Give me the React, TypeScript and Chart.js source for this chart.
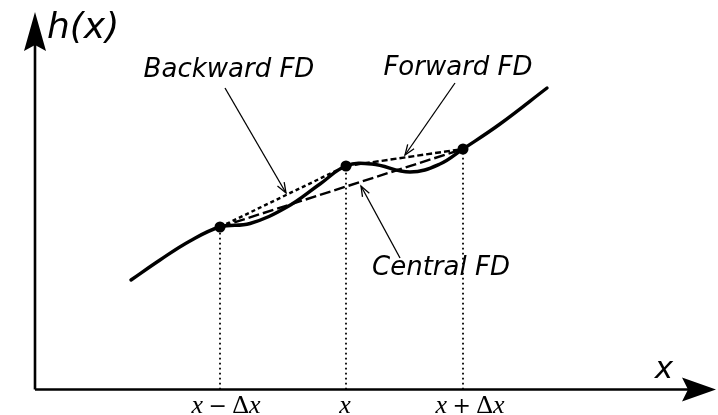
import { useEffect, useRef } from 'react';
import { Chart, registerables } from 'chart.js';

Chart.register(...registerables);

// Curve h(x) (data units)
const CURVE_X = [9.6, 12.5, 15.5, 18.5, 21.5, 25.2, 28.5, 31.1, 33.7, 37.5, 40.5, 42.8, 46.5, 51.2];
const CURVE_Y = [10.95, 12.95, 14.85, 16.25, 16.6, 18.25, 20.55, 22.35, 22.55, 21.75, 22.55, 24.05, 26.55, 30.15];

// Stencil points x-Δx, x, x+Δx
const POINT_X = [18.5, 31.1, 42.8];
const POINT_Y = [16.25, 22.35, 24.05];

// Tick labels under the x axis (text, kind): kind 'i' italic variable, 'o' operator, 'u' upright symbol
const TICK_LABELS = [
  [['x', 'i'], ['\u2005−\u2005', 'o'], ['Δ', 'u'], ['x', 'i']],
  [['x', 'i']],
  [['x', 'i'], ['\u2005+\u2005', 'o'], ['Δ', 'u'], ['x', 'i']],
];
const TICK_LABEL_X = [19.1, 31.0, 43.5];
const TICK_LABEL_Y = -1.6;

// Annotations
const ANNOT_TEXT = ['Backward FD', 'Forward FD', 'Central FD'];
const ANNOT_X = [19.4, 42.3, 40.6];
const ANNOT_Y = [31.95, 32.15, 12.15];
const ARROW_FROM_X = [19.0, 42.0, 36.5];
const ARROW_FROM_Y = [30.15, 30.65, 13.15];
const ARROW_TO_X = [25.1, 37.0, 32.6];
const ARROW_TO_Y = [19.65, 23.45, 20.35];

// Axes
const AXIS_X_END = 68.1;
const AXIS_Y_END = 37.75;
const X_MIN = -3.5;
const X_MAX = 68.3;
const Y_MIN = -2.55;
const Y_MAX = 38.95;

const pt = (i: number) => ({ x: POINT_X[i], y: POINT_Y[i] });

const overlay = {
  id: 'overlay',
  afterDatasetsDraw(chart: any) {
    const ctx: CanvasRenderingContext2D = chart.ctx;
    const xs = chart.scales.x;
    const ys = chart.scales.y;
    const px = (v: number) => xs.getPixelForValue(v);
    const py = (v: number) => ys.getPixelForValue(v);
    ctx.save();
    ctx.fillStyle = '#000';
    ctx.strokeStyle = '#000';

    // y axis arrowhead (pointing up)
    {
      const tx = px(0), ty = py(AXIS_Y_END);
      ctx.beginPath();
      ctx.moveTo(tx, ty);
      ctx.lineTo(tx + 11, ty + 39);
      ctx.lineTo(tx, ty + 33);
      ctx.lineTo(tx - 11, ty + 39);
      ctx.closePath();
      ctx.fill();
    }
    // x axis arrowhead (pointing right)
    {
      const tx = px(AXIS_X_END), ty = py(0);
      ctx.beginPath();
      ctx.moveTo(tx, ty);
      ctx.lineTo(tx - 34, ty - 12);
      ctx.lineTo(tx - 28, ty);
      ctx.lineTo(tx - 34, ty + 12);
      ctx.closePath();
      ctx.fill();
    }

    // annotation arrowheads (open)
    ctx.lineWidth = 1.3;
    for (let i = 0; i < ARROW_TO_X.length; i++) {
      const x1 = px(ARROW_FROM_X[i]), y1 = py(ARROW_FROM_Y[i]);
      const x2 = px(ARROW_TO_X[i]), y2 = py(ARROW_TO_Y[i]);
      const a = Math.atan2(y2 - y1, x2 - x1);
      const L = 11, h = 0.36;
      ctx.beginPath();
      ctx.moveTo(x2 - L * Math.cos(a - h), y2 - L * Math.sin(a - h));
      ctx.lineTo(x2, y2);
      ctx.lineTo(x2 - L * Math.cos(a + h), y2 - L * Math.sin(a + h));
      ctx.stroke();
    }

    // annotation texts
    ctx.font = 'italic 26px "DejaVu Sans"';
    ctx.textAlign = 'center';
    ctx.textBaseline = 'middle';
    for (let i = 0; i < ANNOT_TEXT.length; i++) {
      ctx.fillText(ANNOT_TEXT[i], px(ANNOT_X[i]), py(ANNOT_Y[i]));
    }

    // axis titles
    ctx.font = 'italic 36px "DejaVu Sans"';
    ctx.textAlign = 'left';
    ctx.textBaseline = 'alphabetic';
    ctx.fillText('h(x)', px(1.2), py(35.15));
    ctx.font = 'italic 31px "DejaVu Sans"';
    ctx.textAlign = 'center';
    ctx.fillText('x', px(62.9), py(1.15));

    // tick labels (math style)
    ctx.textBaseline = 'alphabetic';
    const fontOf = (k: string) =>
      k === 'i' ? 'italic 26px "Liberation Serif"' : k === 'o' ? '22px "DejaVu Serif"' : '26px "Liberation Serif"';
    for (let i = 0; i < TICK_LABELS.length; i++) {
      const parts = TICK_LABELS[i] as [string, string][];
      let total = 0;
      for (const [t, k] of parts) {
        ctx.font = fontOf(k);
        total += ctx.measureText(t).width;
      }
      let x = px(TICK_LABEL_X[i]) - total / 2;
      const base = py(TICK_LABEL_Y) + 7;
      ctx.textAlign = 'left';
      for (const [t, k] of parts) {
        ctx.font = fontOf(k);
        ctx.fillText(t, x, base);
        x += ctx.measureText(t).width;
      }
    }
    ctx.restore();
  },
};

export default function App() {
  const ref = useRef<HTMLCanvasElement>(null);
  useEffect(() => {
    if (!ref.current) return;
    const base = { fill: false, pointRadius: 0, borderColor: '#000', showLine: true, tension: 0 };
    const datasets: any[] = [];
    // vertical dotted guides
    for (let i = 0; i < POINT_X.length; i++) {
      datasets.push({ ...base, data: [{ x: POINT_X[i], y: 0 }, pt(i)], borderWidth: 1.8, borderDash: [1.8, 3.2] });
    }
    // axes
    datasets.push({ ...base, data: [{ x: 0, y: 0 }, { x: AXIS_X_END - 2.5, y: 0 }], borderWidth: 2.6 });
    datasets.push({ ...base, data: [{ x: 0, y: 0 }, { x: 0, y: AXIS_Y_END - 3 }], borderWidth: 2.6 });
    // secants
    datasets.push({ ...base, label: 'Backward', data: [pt(0), pt(1)], borderWidth: 2.4, borderDash: [4, 3] });
    datasets.push({ ...base, label: 'Forward', data: [pt(1), pt(2)], borderWidth: 2.4, borderDash: [6, 3] });
    datasets.push({ ...base, label: 'Central', data: [pt(0), pt(2)], borderWidth: 2.4, borderDash: [11, 4] });
    // annotation arrow shafts
    for (let i = 0; i < ARROW_TO_X.length; i++) {
      datasets.push({ ...base, data: [{ x: ARROW_FROM_X[i], y: ARROW_FROM_Y[i] }, { x: ARROW_TO_X[i], y: ARROW_TO_Y[i] }], borderWidth: 1.3 });
    }
    // curve
    datasets.push({
      ...base,
      label: 'h(x)',
      data: CURVE_X.map((x, i) => ({ x, y: CURVE_Y[i] })),
      borderWidth: 3.4,
      tension: 0.4,
      borderCapStyle: 'round',
      borderJoinStyle: 'round',
    });
    // points
    datasets.push({
      label: 'points',
      data: POINT_X.map((x, i) => ({ x, y: POINT_Y[i] })),
      showLine: false,
      pointRadius: 5.5,
      pointBackgroundColor: '#000',
      pointBorderColor: '#000',
      pointBorderWidth: 0,
    });

    const chart = new Chart(ref.current, {
      type: 'scatter',
      data: { datasets },
      options: {
        animation: false,
        responsive: false,
        devicePixelRatio: 1,
        layout: { padding: 0, autoPadding: false } as any,
        plugins: { legend: { display: false }, tooltip: { enabled: false }, title: { display: false } },
        events: [],
        scales: {
          x: { type: 'linear', display: false, min: X_MIN, max: X_MAX },
          y: { type: 'linear', display: false, min: Y_MIN, max: Y_MAX },
        },
        clip: false as any,
      },
      plugins: [overlay],
    });
    return () => chart.destroy();
  }, []);
  return (
    <div style={{ position: 'fixed', left: 0, top: 0, width: 718, height: 415, background: '#fff' }}>
      <canvas ref={ref} width={718} height={415} style={{ width: 718, height: 415, display: 'block' }} />
    </div>
  );
}
